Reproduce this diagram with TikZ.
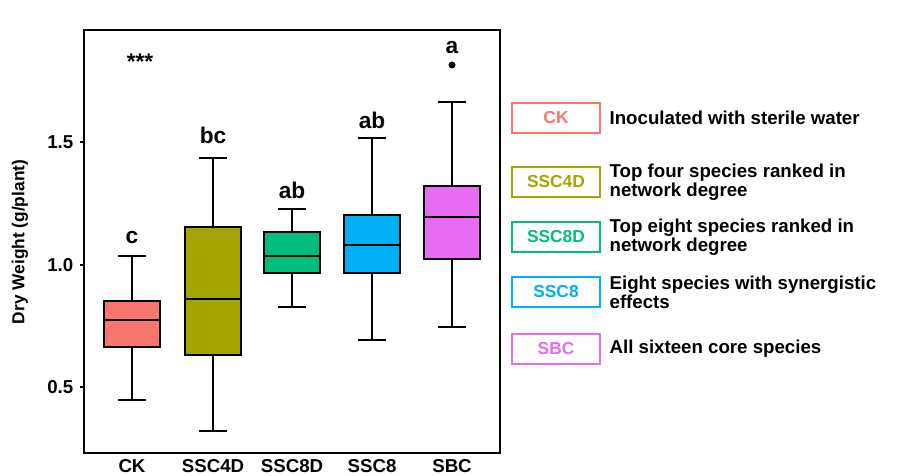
\documentclass[tikz,border=0pt]{standalone}
\usepackage{fontspec}
\setmainfont{Liberation Sans}
\usetikzlibrary{positioning}
\definecolor{ckcol}{HTML}{F8766D}
\definecolor{fourcol}{HTML}{A3A500}
\definecolor{eightdcol}{HTML}{00BF7D}
\definecolor{eightcol}{HTML}{00B0F6}
\definecolor{sbccol}{HTML}{E76BF3}
\begin{document}
\begin{tikzpicture}[
            x=0.75pt, y=-0.75pt,
            font=\bfseries\fontsize{14}{15}\selectfont,
            whisker/.style={line width=1.6pt},
            boxbody/.style={draw, line width=1.6pt},
            grplab/.style={font=\bfseries\fontsize{17}{18}\selectfont},
            legbox/.style={draw, line width=1.4pt, minimum width=66pt, minimum height=22pt, fill=white, font=\bfseries\fontsize{13}{14}\selectfont},
            legtext/.style={anchor=west, align=left, font=\bfseries\fontsize{14}{14.5}\selectfont}
        ]
        \useasboundingbox (0,0) rectangle (917,475);
        % panel
        \draw[line width=1.4pt] (84,30) rectangle (500,453);
        \foreach \v/\yy in {0.5/387, 1.0/265, 1.5/142} {
            \draw[line width=1pt] (80,\yy) -- (84,\yy);
            \node[anchor=east] (tick\v) at (78,\yy) {\v};
        }
        \node[rotate=90, font=\bfseries\fontsize{13}{14}\selectfont] (ylab) at (20,242) {Dry Weight (g/plant)};
        % boxes: x / low / q1 / med / q3 / high / colour / name / letter / letter y
        \foreach \x/\lo/\qa/\me/\qc/\hi/\col/\nm/\grp/\ly in {
            132/400/347/320/301/256/ckcol/CK/c/238,
            213/431/355/299/227/158/fourcol/SSC4D/bc/135,
            292/307/273/256/232/209/eightdcol/SSC8D/ab/190,
            372/340/273/245/215/138/eightcol/SSC8/ab/120,
            452/327/259/217/186/102/sbccol/SBC/a/48} {
            \draw[whisker] (\x,\lo) -- (\x,\hi);
            \draw[whisker] (\x-14,\lo) -- (\x+14,\lo);
            \draw[whisker] (\x-14,\hi) -- (\x+14,\hi);
            \draw[boxbody, fill=\col] (\x-28,\qa) rectangle (\x+28,\qc);
            \draw[whisker] (\x-28,\me) -- (\x+28,\me);
            \node[grplab] (grp\nm) at (\x,\ly) {\grp};
            \node (xl\nm) at (\x,466) {\nm};
        }
        \fill (452,65) circle (3.5);
        \node[grplab] (stars) at (140,62) {***};
        % legend
        \foreach \yy/\col/\nm/\txt in {
            118/ckcol/CK/Inoculated with sterile water,
            182/fourcol/SSC4D/{Top four species ranked in\\network degree},
            237/eightdcol/SSC8D/{Top eight species ranked in\\network degree},
            292/eightcol/SSC8/{Eight species with synergistic\\effects},
            349/sbccol/SBC/All sixteen core species} {
            \node[legbox, draw=\col, text=\col] (leg\nm) at (556,\yy) {\nm};
            \node[legtext, right=3pt of leg\nm] (txt\nm) {\txt};
        }
        \end{tikzpicture}
\end{document}
